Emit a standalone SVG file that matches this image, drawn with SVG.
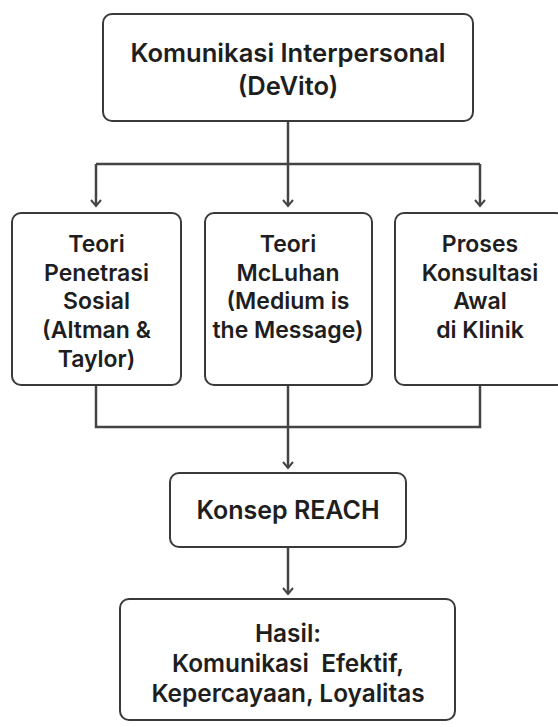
<svg xmlns="http://www.w3.org/2000/svg" width="558" height="727" viewBox="0 0 558 727">
<style>
.box{fill:#fff;stroke:#3a3a3a;stroke-width:2}
.t{font-family:Inter,"Noto Sans","Liberation Sans",sans-serif;font-size:25px;font-weight:600;fill:#1e1e1e;text-anchor:middle}
.h{font-size:25.6px}
.m{font-size:23px}
.f{font-size:24.4px}
.c{fill:none;stroke:#444;stroke-width:2.5}
</style>
<defs>
<marker id="ah" markerWidth="12" markerHeight="12" refX="10" refY="6" orient="auto" markerUnits="userSpaceOnUse" viewBox="0 0 12 12">
<path d="M4,1 L10,6 L4,11" fill="none" stroke="#444" stroke-width="2"/>
</marker>
</defs>
<rect width="558" height="727" fill="#fff"/>
<g id="connectors">
<path class="c" d="M288,121 V164"/>
<path class="c" d="M96,164 H480"/>
<path class="c" d="M96,164 V206" marker-end="url(#ah)"/>
<path class="c" d="M288,164 V206" marker-end="url(#ah)"/>
<path class="c" d="M480,164 V206" marker-end="url(#ah)"/>
<path class="c" d="M96,385 V427 H480 V385"/>
<path class="c" d="M288,385 V468" marker-end="url(#ah)"/>
<path class="c" d="M288,547 V594" marker-end="url(#ah)"/>
</g>
<g id="n1">
<rect class="box" x="103" y="14" width="370" height="107" rx="9"/>
<text class="t h" x="288" y="62">Komunikasi Interpersonal</text>
<text class="t h" x="288" y="95">(DeVito)</text>
</g>
<g id="n2">
<rect class="box" x="12" y="213" width="169" height="172" rx="9"/>
<text class="t m" x="96.5" y="252">Teori</text>
<text class="t m" x="96.5" y="281">Penetrasi</text>
<text class="t m" x="96.5" y="309">Sosial</text>
<text class="t m" x="96.5" y="338">(Altman &amp;</text>
<text class="t m" x="96.5" y="367">Taylor)</text>
</g>
<g id="n3">
<rect class="box" x="205" y="213" width="167" height="172" rx="9"/>
<text class="t m" x="288" y="252">Teori</text>
<text class="t m" x="288" y="281">McLuhan</text>
<text class="t m" x="288" y="309">(Medium is</text>
<text class="t m" x="288" y="338">the Message)</text>
</g>
<g id="n4">
<rect class="box" x="395" y="213" width="170" height="172" rx="9"/>
<text class="t m" x="480" y="252">Proses</text>
<text class="t m" x="480" y="281">Konsultasi</text>
<text class="t m" x="480" y="309">Awal</text>
<text class="t m" x="480" y="338">di Klinik</text>
</g>
<g id="n5">
<rect class="box" x="170" y="473" width="236" height="74" rx="9"/>
<text class="t" x="288" y="519">Konsep REACH</text>
</g>
<g id="n6">
<rect class="box" x="120" y="599" width="335" height="121" rx="9"/>
<text class="t f" x="288" y="642">Hasil:</text>
<text class="t f" x="288" y="672" xml:space="preserve">Komunikasi  Efektif,</text>
<text class="t f" x="288" y="702">Kepercayaan, Loyalitas</text>
</g>
</svg>
